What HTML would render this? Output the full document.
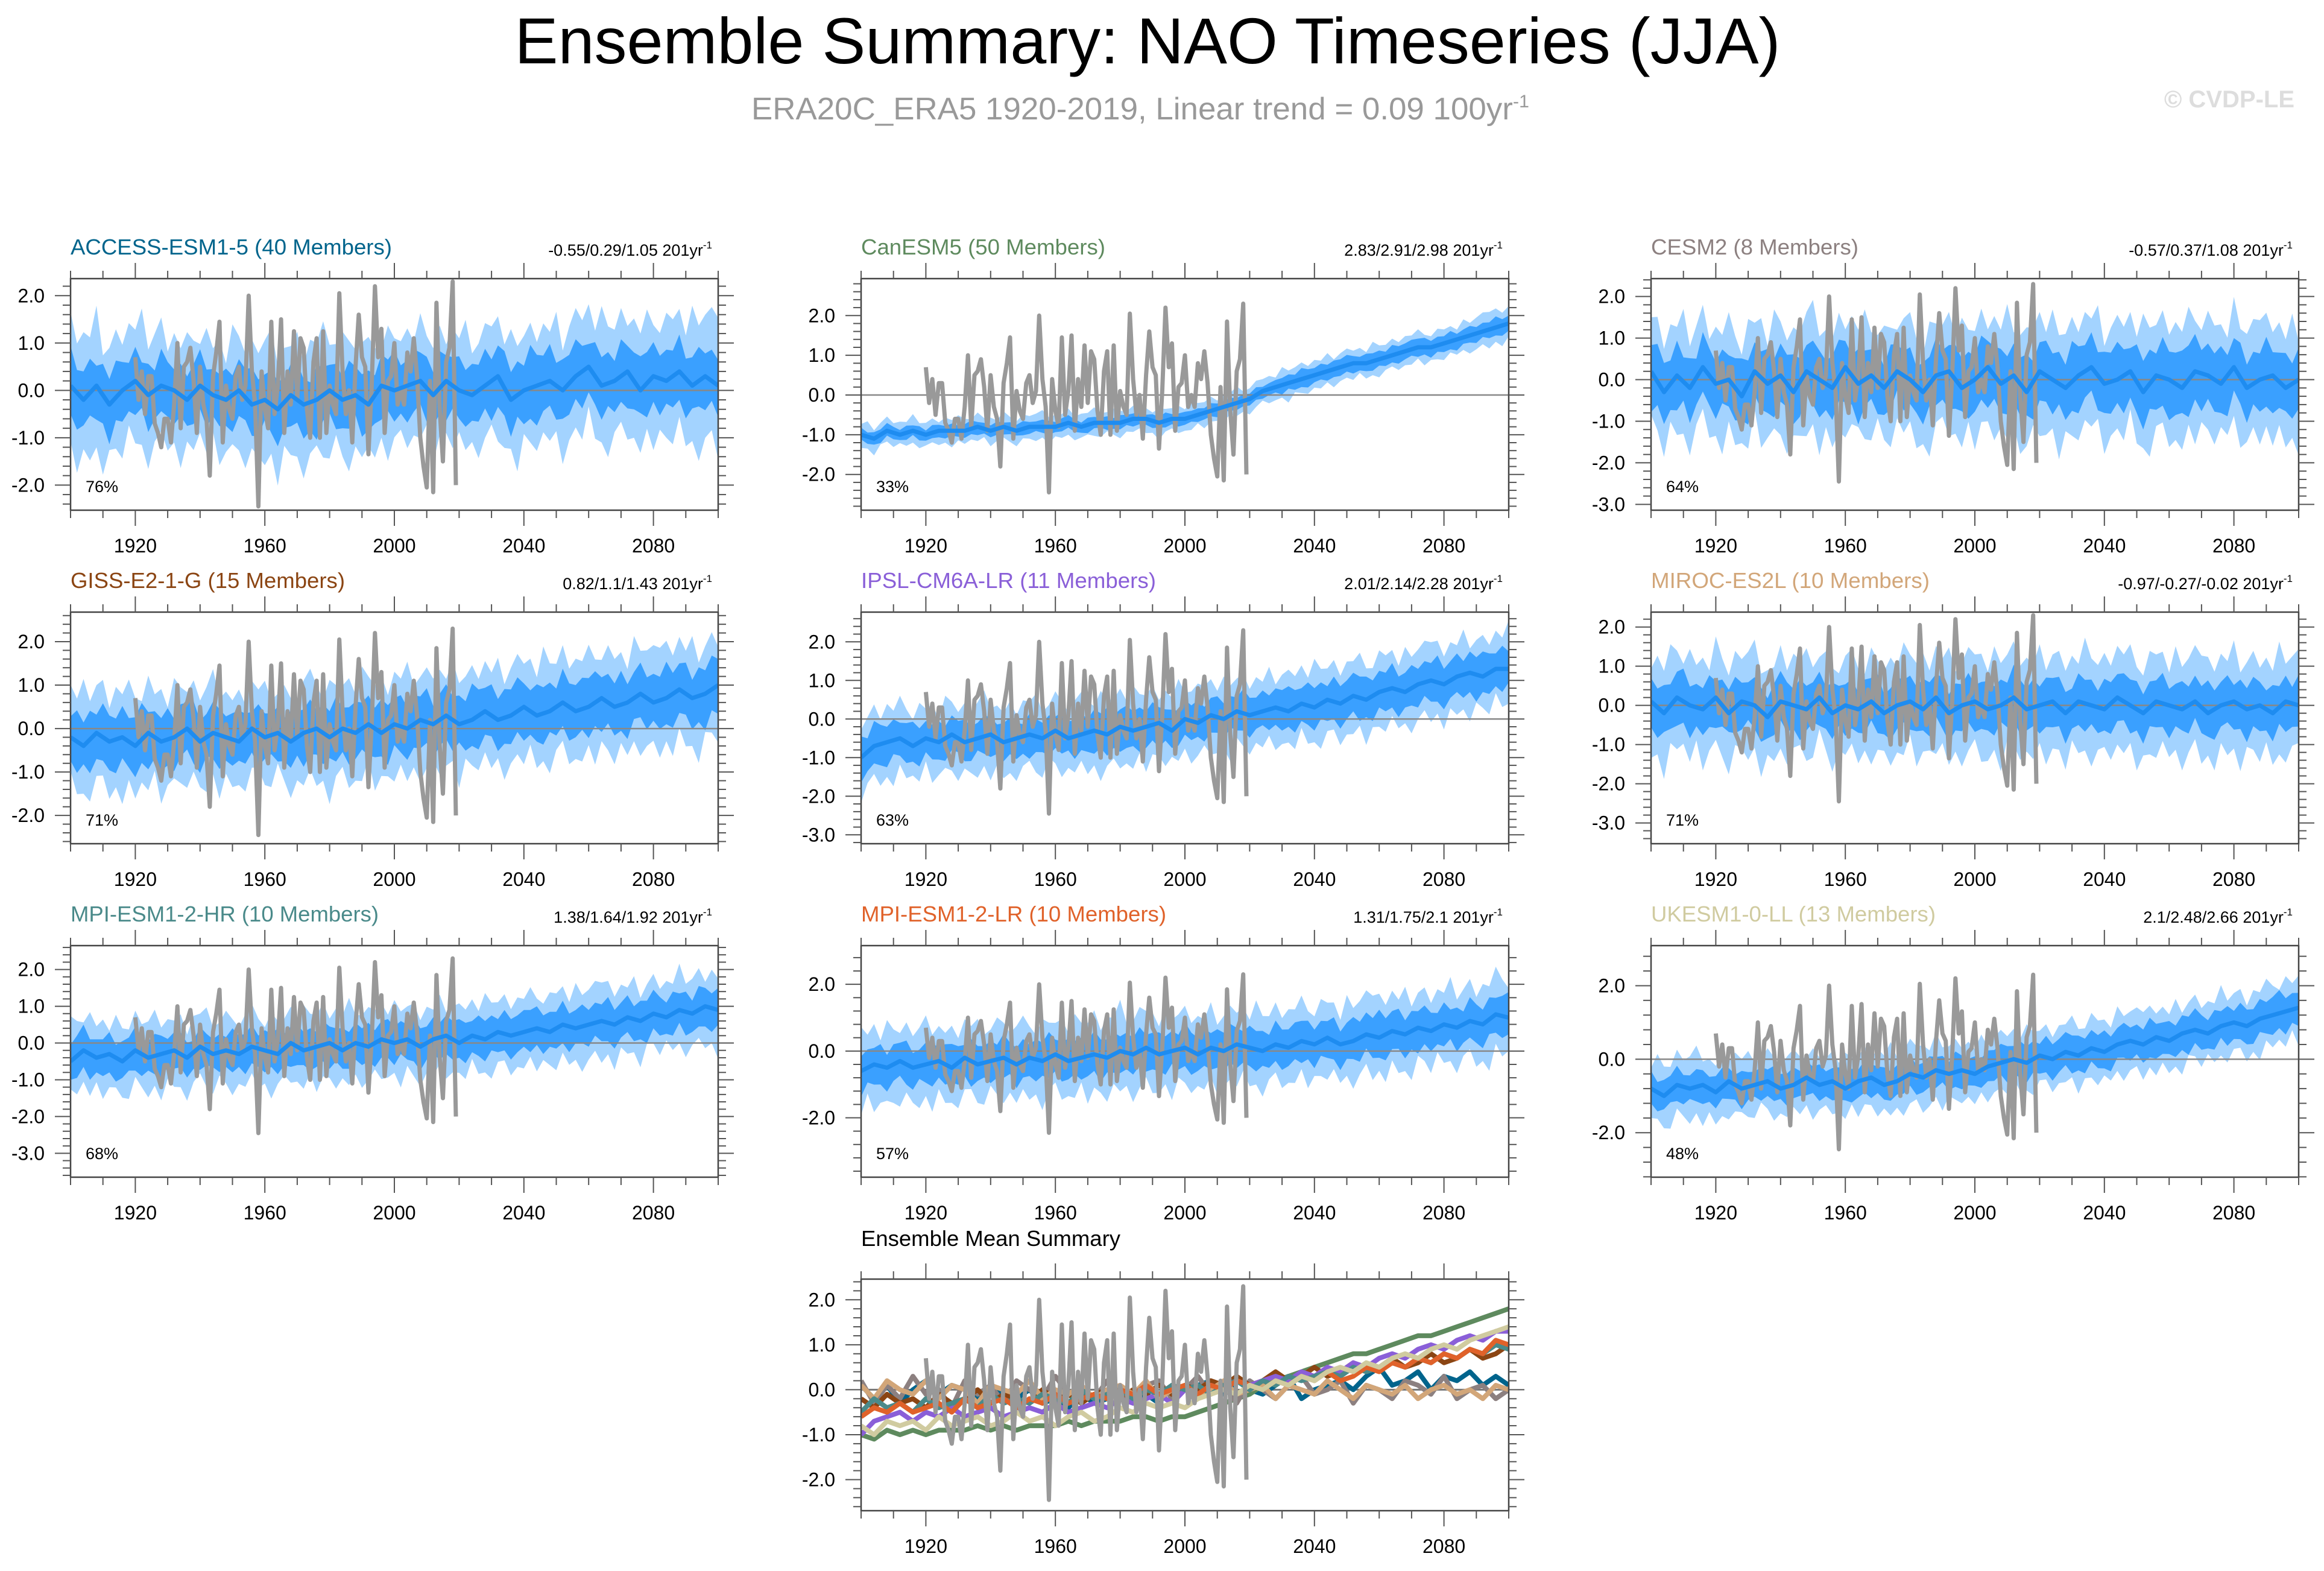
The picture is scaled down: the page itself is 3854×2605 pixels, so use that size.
<!DOCTYPE html>
<html><head><meta charset="utf-8">
<style>
html,body{margin:0;padding:0;background:#fff;}
svg{display:block;}
text{font-family:"Liberation Sans",sans-serif;}
</style></head>
<body>
<svg id="fig" width="3854" height="2605" viewBox="0 0 3854 2605" xmlns="http://www.w3.org/2000/svg">
<text x="1903" y="105" text-anchor="middle" font-size="108" textLength="2099" lengthAdjust="spacingAndGlyphs" fill="#000">Ensemble Summary: NAO Timeseries (JJA)</text>
<text x="1246" y="198" font-size="52" textLength="1290" lengthAdjust="spacingAndGlyphs" fill="#999">ERA20C_ERA5 1920-2019, Linear trend = 0.09 100yr<tspan dy="-20" font-size="30">-1</tspan></text>
<text x="3805" y="178" text-anchor="end" font-size="40" font-weight="bold" fill="#ddd">© CVDP-LE</text>
<g id="panels"></g>
</svg>
<script>
// Observations (ERA20C_ERA5), 1920..2019
const obsYears0 = 1920;
const obsValues = [0.7,-0.2,0.4,-0.5,0.3,0.3,-0.7,-0.9,-1.2,-0.6,-0.6,-1.1,-0.3,1.0,-0.8,0.5,0.6,0.9,0.2,-0.9,
0.5,-0.3,-0.6,-1.8,0.3,0.8,1.45,-1.1,0.1,-0.4,-0.6,0.3,0.5,-0.2,0.1,2.0,0.4,-0.3,-2.45,0.4,
-0.4,-0.8,1.45,-0.5,0.1,1.5,-0.9,0.4,-0.3,1.25,-0.2,1.1,0.9,-0.4,-1.0,0.6,1.1,-1.0,1.25,-0.9,
0.1,-0.3,-0.5,2.05,0.4,-0.5,0.0,-1.1,0.5,1.6,0.7,0.5,-1.35,0.1,2.2,0.7,1.3,-0.9,0.2,0.3,
1.0,-0.3,0.0,-0.3,0.8,0.4,1.1,0.3,-1.0,-1.6,-2.05,0.2,-2.15,1.85,-0.4,-1.5,0.6,0.9,2.3,-2.0];

// Model ensemble means (1900..2100, evenly spaced)
const meanACCESS = [0.1,-0.2,0.1,-0.3,0.0,0.2,-0.1,0.1,0.0,-0.2,0.1,-0.1,-0.2,0.0,-0.3,-0.2,-0.4,-0.1,-0.3,-0.2,0.0,-0.2,-0.1,-0.3,0.1,0.0,0.1,0.2,-0.1,0.2,0.0,-0.1,0.1,0.3,-0.2,0.0,0.1,0.2,0.0,0.3,0.5,0.1,0.2,0.4,0.0,0.3,0.2,0.4,0.1,0.3,0.1];
const meanCanESM5 = [-1.0,-1.1,-0.9,-1.0,-0.9,-1.0,-0.9,-0.9,-0.9,-0.8,-0.9,-0.8,-0.9,-0.8,-0.8,-0.8,-0.7,-0.8,-0.7,-0.7,-0.7,-0.6,-0.6,-0.7,-0.6,-0.6,-0.5,-0.4,-0.3,-0.2,-0.1,0.1,0.2,0.3,0.4,0.5,0.6,0.7,0.8,0.8,0.9,1.0,1.1,1.2,1.2,1.3,1.4,1.5,1.6,1.7,1.8];
const meanCESM2 = [0.2,-0.3,0.1,-0.2,0.3,-0.1,0.0,-0.4,0.2,-0.1,0.1,-0.3,0.2,0.0,-0.2,0.3,-0.1,0.1,-0.2,0.2,0.0,-0.3,0.1,0.2,-0.2,0.0,0.3,-0.1,0.1,-0.3,0.2,0.0,-0.2,0.1,0.3,-0.1,0.0,0.2,-0.3,0.1,0.0,-0.2,0.2,0.1,-0.1,0.3,-0.2,0.0,0.1,-0.2,0.0];
const meanGISS = [-0.2,-0.4,-0.1,-0.3,-0.2,-0.4,-0.1,-0.3,-0.2,0.0,-0.3,-0.1,-0.2,-0.3,0.0,-0.2,-0.1,-0.3,-0.1,0.0,-0.2,0.0,-0.1,0.1,-0.1,0.1,0.0,0.2,0.1,0.3,0.1,0.2,0.4,0.2,0.3,0.5,0.3,0.4,0.6,0.4,0.5,0.7,0.5,0.6,0.8,0.6,0.7,0.9,0.7,0.8,1.0];
const meanIPSL = [-1.0,-0.7,-0.6,-0.5,-0.7,-0.5,-0.6,-0.4,-0.6,-0.5,-0.4,-0.6,-0.5,-0.4,-0.5,-0.3,-0.5,-0.4,-0.3,-0.4,-0.2,-0.3,-0.2,-0.1,-0.3,0.0,-0.1,0.1,0.0,0.2,0.1,0.2,0.3,0.2,0.4,0.3,0.5,0.4,0.6,0.5,0.7,0.8,0.7,0.9,1.0,0.9,1.1,1.2,1.1,1.3,1.3];
const meanMIROC = [0.1,-0.2,0.2,0.0,-0.1,0.2,-0.2,0.1,0.0,-0.3,0.1,0.0,-0.1,0.2,-0.2,0.0,-0.1,0.1,-0.2,0.0,0.1,-0.1,0.2,-0.2,0.0,0.1,-0.1,0.0,0.2,-0.1,0.0,0.1,-0.2,0.1,0.0,-0.1,0.2,0.0,-0.2,0.1,0.0,-0.1,0.1,-0.2,0.0,0.1,-0.1,0.0,-0.2,0.1,0.0];
const meanMPIHR = [-0.5,-0.2,-0.4,-0.3,-0.5,-0.2,-0.4,-0.3,-0.2,-0.4,-0.1,-0.3,-0.2,-0.3,-0.1,-0.2,-0.3,0.0,-0.2,-0.1,0.0,-0.2,0.0,-0.1,0.1,0.0,0.1,-0.1,0.1,0.2,0.0,0.2,0.1,0.3,0.2,0.3,0.4,0.3,0.5,0.4,0.5,0.6,0.5,0.7,0.6,0.8,0.7,0.9,0.8,1.0,0.9];
const meanMPILR = [-0.6,-0.4,-0.5,-0.3,-0.5,-0.4,-0.3,-0.5,-0.2,-0.4,-0.3,-0.2,-0.4,-0.2,-0.3,-0.1,-0.3,-0.2,-0.1,-0.2,0.0,-0.1,0.1,-0.1,0.0,0.1,-0.1,0.1,0.0,0.2,0.1,0.0,0.2,0.1,0.3,0.2,0.4,0.2,0.3,0.5,0.4,0.6,0.5,0.7,0.6,0.8,0.7,0.9,0.8,1.1,1.0];
const meanUKESM = [-0.8,-1.0,-0.7,-0.8,-0.7,-0.9,-0.6,-0.8,-0.7,-0.6,-0.8,-0.7,-0.5,-0.7,-0.6,-0.8,-0.6,-0.5,-0.7,-0.6,-0.4,-0.5,-0.3,-0.4,-0.3,-0.4,-0.2,-0.1,0.0,-0.1,0.1,0.0,0.2,0.1,0.3,0.2,0.4,0.5,0.4,0.6,0.5,0.7,0.8,0.7,0.9,1.0,0.9,1.1,1.2,1.3,1.4];

// Spread half-widths (inner 25-75 and outer 10-90), one value per 20 years
const innerACCESS=[0.6,0.6,0.55,0.6,0.6,0.6,0.6,0.65,0.6,0.6,0.6], outerACCESS=[1.3,1.2,1.1,1.15,1.2,1.1,1.1,1.15,1.2,1.2,1.3];
const innerCanESM5=[0.15,0.15,0.15,0.15,0.15,0.15,0.15,0.2,0.2,0.2,0.2], outerCanESM5=[0.3,0.3,0.3,0.3,0.3,0.3,0.3,0.35,0.35,0.35,0.4];
const innerCESM2=[0.7,0.65,0.7,0.7,0.65,0.7,0.7,0.7,0.75,0.7,0.7], outerCESM2=[1.3,1.25,1.3,1.3,1.25,1.3,1.3,1.3,1.35,1.3,1.3];
const innerGISS=[0.6,0.6,0.6,0.55,0.6,0.6,0.6,0.6,0.6,0.6,0.6], outerGISS=[1.1,1.1,1.05,1.0,1.1,1.1,1.05,1.1,1.1,1.1,1.1];
const innerIPSL=[0.5,0.45,0.45,0.45,0.5,0.45,0.45,0.5,0.5,0.5,0.5], outerIPSL=[0.9,0.85,0.85,0.85,0.9,0.85,0.85,0.9,0.9,0.9,0.9];
const innerMIROC=[0.6,0.6,0.6,0.6,0.6,0.6,0.6,0.6,0.6,0.6,0.6], outerMIROC=[1.2,1.2,1.2,1.15,1.2,1.2,1.2,1.2,1.2,1.2,1.2];
const innerMPIHR=[0.5,0.5,0.45,0.5,0.5,0.5,0.5,0.5,0.5,0.5,0.5], outerMPIHR=[0.95,0.9,0.9,0.9,0.95,0.9,0.9,0.9,0.95,0.9,0.95];
const innerMPILR=[0.55,0.55,0.55,0.55,0.55,0.55,0.55,0.55,0.6,0.55,0.55], outerMPILR=[1.1,1.05,1.05,1.05,1.1,1.05,1.05,1.05,1.1,1.05,1.1];
const innerUKESM=[0.4,0.4,0.4,0.4,0.4,0.4,0.45,0.45,0.45,0.45,0.45], outerUKESM=[0.8,0.8,0.75,0.75,0.8,0.75,0.75,0.8,0.8,0.8,0.8];

// Year-to-year variability of the spread edges (multipliers, 2-year steps)
const upJit = [1.2,0.8,1.1,0.9,1.3,0.7,1.0,1.2,0.8,1.1,0.9,1.4,0.8,1.0,1.2,0.7,1.1,0.9,1.3,1.0,0.8,1.2,0.9,1.1,0.7,1.3,1.0,0.8,1.2,0.9,1.1,1.4,0.8,1.0,0.9,1.2,0.7,1.1,1.0,1.3,0.8,0.9,1.2,1.0,0.8,1.1,1.3,0.9,0.7,1.2,1.0,0.9,1.1,0.8,1.3,1.0,0.9,1.2,0.7,1.1,1.0,1.4,0.8,0.9,1.2,1.0,1.1,0.8,1.3,0.9,1.0,1.2,0.8,1.1,0.9,1.3,0.7,1.0,1.2,0.9,1.1,0.8,1.4,1.0,0.9,1.2,0.8,1.1,1.0,1.3,0.9,0.8,1.2,1.0,1.1,0.7,1.3,0.9,1.0,1.2,1.1];
const dnJit = [0.9,1.3,0.8,1.1,1.0,1.4,0.8,0.9,1.2,0.7,1.1,1.0,1.3,0.9,0.8,1.2,1.0,1.4,0.8,1.1,0.9,1.2,0.7,1.3,1.0,0.9,1.1,1.3,0.8,1.0,1.2,0.9,1.4,0.8,1.1,1.0,1.3,0.9,0.8,1.1,1.2,0.7,1.0,1.3,0.9,1.1,0.8,1.2,1.0,1.4,0.9,0.8,1.2,1.0,1.1,0.7,1.3,0.9,1.0,1.2,0.8,1.1,0.9,1.3,1.0,0.8,1.2,1.1,0.9,1.4,0.8,1.0,1.2,0.9,1.1,0.8,1.3,1.0,0.9,1.2,0.7,1.1,1.0,1.3,0.9,0.8,1.2,1.0,1.1,0.8,1.3,0.9,1.0,1.2,0.8,1.1,0.9,1.3,1.0,0.8,1.2];

const modelNames = ["ACCESS-ESM1-5 (40 Members)","CanESM5 (50 Members)","CESM2 (8 Members)","GISS-E2-1-G (15 Members)","IPSL-CM6A-LR (11 Members)","MIROC-ES2L (10 Members)","MPI-ESM1-2-HR (10 Members)","MPI-ESM1-2-LR (10 Members)","UKESM1-0-LL (13 Members)"];
const trendLabels = ["-0.55/0.29/1.05 201yr","2.83/2.91/2.98 201yr","-0.57/0.37/1.08 201yr","0.82/1.1/1.43 201yr","2.01/2.14/2.28 201yr","-0.97/-0.27/-0.02 201yr","1.38/1.64/1.92 201yr","1.31/1.75/2.1 201yr","2.1/2.48/2.66 201yr"];
const pctLabels = ["76%","33%","64%","71%","63%","71%","68%","57%","48%"];
const xTickLabels = [1920,1960,2000,2040,2080];

const means=[meanACCESS,meanCanESM5,meanCESM2,meanGISS,meanIPSL,meanMIROC,meanMPIHR,meanMPILR,meanUKESM];
const inners=[innerACCESS,innerCanESM5,innerCESM2,innerGISS,innerIPSL,innerMIROC,innerMPIHR,innerMPILR,innerUKESM];
const outers=[outerACCESS,outerCanESM5,outerCESM2,outerGISS,outerIPSL,outerMIROC,outerMPIHR,outerMPILR,outerUKESM];
const colors=["#00648c","#5e8a5e","#8c8080","#8b4513","#8a5fd8","#d2a679","#4a8a8a","#e0622a","#d0cba0"];
const titleW=[533,405,344,455,489,462,511,506,472];
const yRanges=[[-2.53,2.36],[-2.9,2.93],[-3.14,2.43],[-2.65,2.68],[-3.23,2.77],[-3.53,2.38],[-3.65,2.65],[-3.78,3.16],[-3.21,3.09]];
const yTickSets=[[-2,-1,0,1,2],[-2,-1,0,1,2],[-3,-2,-1,0,1,2],[-2,-1,0,1,2],[-3,-2,-1,0,1,2],[-3,-2,-1,0,1,2],[-3,-2,-1,0,1,2],[-2,0,2],[-2,0,2]];
const colX=[117,1428,2738], rowY=[462,1015,1568];
const W=1074,H=384;
const NS="http://www.w3.org/2000/svg";
const root=document.getElementById('panels');
function el(tag,attrs,parent){const e=document.createElementNS(NS,tag);for(const k in attrs)e.setAttribute(k,attrs[k]);(parent||root).appendChild(e);return e;}
function meanAt(m,yr){const f=(yr-1900)/200*(m.length-1);const i=Math.min(m.length-2,Math.floor(f));const t=f-i;return m[i]*(1-t)+m[i+1]*t;}
function widthAt(w,yr){const k=Math.min(w.length-1,Math.round((yr-1900)/200*(w.length-1)));return w[k];}

function drawPanel(idx,px,py,ymin,ymax,yticks,minorStep,kind){
  const g=el('g',{});
  
  
  const xs=y=>px+(y-1900)/200*W;
  const ys=v=>py+(ymax-v)/(ymax-ymin)*H;
  const cid='clip'+kind+idx;
  const cp=el('clipPath',{id:cid},g);el('rect',{x:px,y:py,width:W,height:H},cp);
  const plot=el('g',{'clip-path':'url(#'+cid+')'},g);
  function poly(m,w,off,fill,name){
    const n=upJit.length, up=[], dn=[];
    for(let i=0;i<n;i++){const yr=1900+i*200/(n-1);const mv=meanAt(m,yr);const wv=widthAt(w,yr);
      up.push([xs(yr),ys(mv+wv*upJit[(i+off)%n])]);dn.push([xs(yr),ys(mv-wv*dnJit[(i+off)%n])]);}
    const p=el('polygon',{points:up.concat(dn.reverse()).map(a=>a[0].toFixed(1)+','+a[1].toFixed(1)).join(' '),fill:fill},plot);
    
    }
  function line(arr,y0,step,stroke,sw,name){const pts=arr.map((v,i)=>xs(y0+i*step).toFixed(1)+','+ys(v).toFixed(1)).join(' ');const p=el('polyline',{points:pts,fill:'none',stroke:stroke,'stroke-width':sw,'stroke-linejoin':'round'},plot);
    
    }
  if(kind==='model'){
    const m=means[idx];
    poly(m,outers[idx],idx*3,'#a3d3ff','outer-spread-band');
    poly(m,inners[idx],idx*3+11,'#3aa0ff','inner-spread-band');
    el('line',{x1:px,x2:px+W,y1:ys(0),y2:ys(0),stroke:'#888','stroke-width':2.5},plot);
    line(obsValues,obsYears0,1,'#999',7,'observed-nao-line');
    line(m,1900,200/(m.length-1),'#1e8cf0',7,'ensemble-mean-line');
  } else {
    el('line',{x1:px,x2:px+W,y1:ys(0),y2:ys(0),stroke:'#777','stroke-width':3},plot);
    for(let j=0;j<means.length;j++){const m=means[j];line(m,1900,200/(m.length-1),colors[j],8,'summary-mean-'+modelNames[j].split(' ')[0].toLowerCase());}
    line(obsValues,obsYears0,1,'#999',7,'observed-nao-line');
  }
  el('rect',{x:px,y:py,width:W,height:H,fill:'none',stroke:'#444','stroke-width':2.5},g);
  for(let yr=1900;yr<=2100;yr+=10){const major=(yr-1920)%40===0;const L=major?26:13;const x=xs(yr);
    el('line',{x1:x,x2:x,y1:py,y2:py-L,stroke:'#555','stroke-width':2},g);
    el('line',{x1:x,x2:x,y1:py+H,y2:py+H+L,stroke:'#555','stroke-width':2},g);}
  xTickLabels.forEach(yr=>{const t=el('text',{x:xs(yr),y:py+H+70,'text-anchor':'middle','font-size':32,fill:'#000'},g);t.textContent=yr;
    
    });
  const s0=Math.ceil(ymin/minorStep-1e-6);
  for(let k=s0;k*minorStep<=ymax+1e-6;k++){const v=k*minorStep;const major=Math.abs(v-Math.round(v))<1e-6 && yticks.includes(Math.round(v));const L=major?26:13;const y=ys(v);
    el('line',{x1:px,x2:px-L,y1:y,y2:y,stroke:'#555','stroke-width':2},g);
    el('line',{x1:px+W,x2:px+W+L,y1:y,y2:y,stroke:'#555','stroke-width':2},g);}
  yticks.forEach(v=>{const t=el('text',{x:px-43,y:ys(v)+11,'text-anchor':'end','font-size':32,fill:'#000'},g);t.textContent=v.toFixed(1);
    
    });
  if(kind==='model'){
    const t=el('text',{x:px,y:py-40,'font-size':36,fill:colors[idx],textLength:titleW[idx],lengthAdjust:'spacingAndGlyphs'},g);t.textContent=modelNames[idx];
    
    
    const s=el('text',{x:px+W-10,y:py-38,'text-anchor':'end','font-size':27,fill:'#000'},g);
    
    
    s.appendChild(document.createTextNode(trendLabels[idx]));
    const sup=el('tspan',{dy:-12,'font-size':17},s);sup.textContent='-1';
    const p=el('text',{x:px+25,y:py+H-30,'font-size':27,fill:'#000'},g);p.textContent=pctLabels[idx];
    
    
  } else {
    const t=el('text',{x:px,y:py-55,'font-size':36,fill:'#000',textLength:430,lengthAdjust:'spacingAndGlyphs'},g);t.textContent='Ensemble Mean Summary';
    
    
  }
}
for(let i=0;i<9;i++){
  const px=colX[i%3],py=rowY[Math.floor(i/3)];
  const r=yRanges[i];
  drawPanel(i,px,py,r[0],r[1],yTickSets[i],(yTickSets[i].length<=3?0.4:0.2),'model');
}
drawPanel(0,1428,2121,-2.69,2.46,[-2,-1,0,1,2],0.2,'sum');
</script>
</body></html>
